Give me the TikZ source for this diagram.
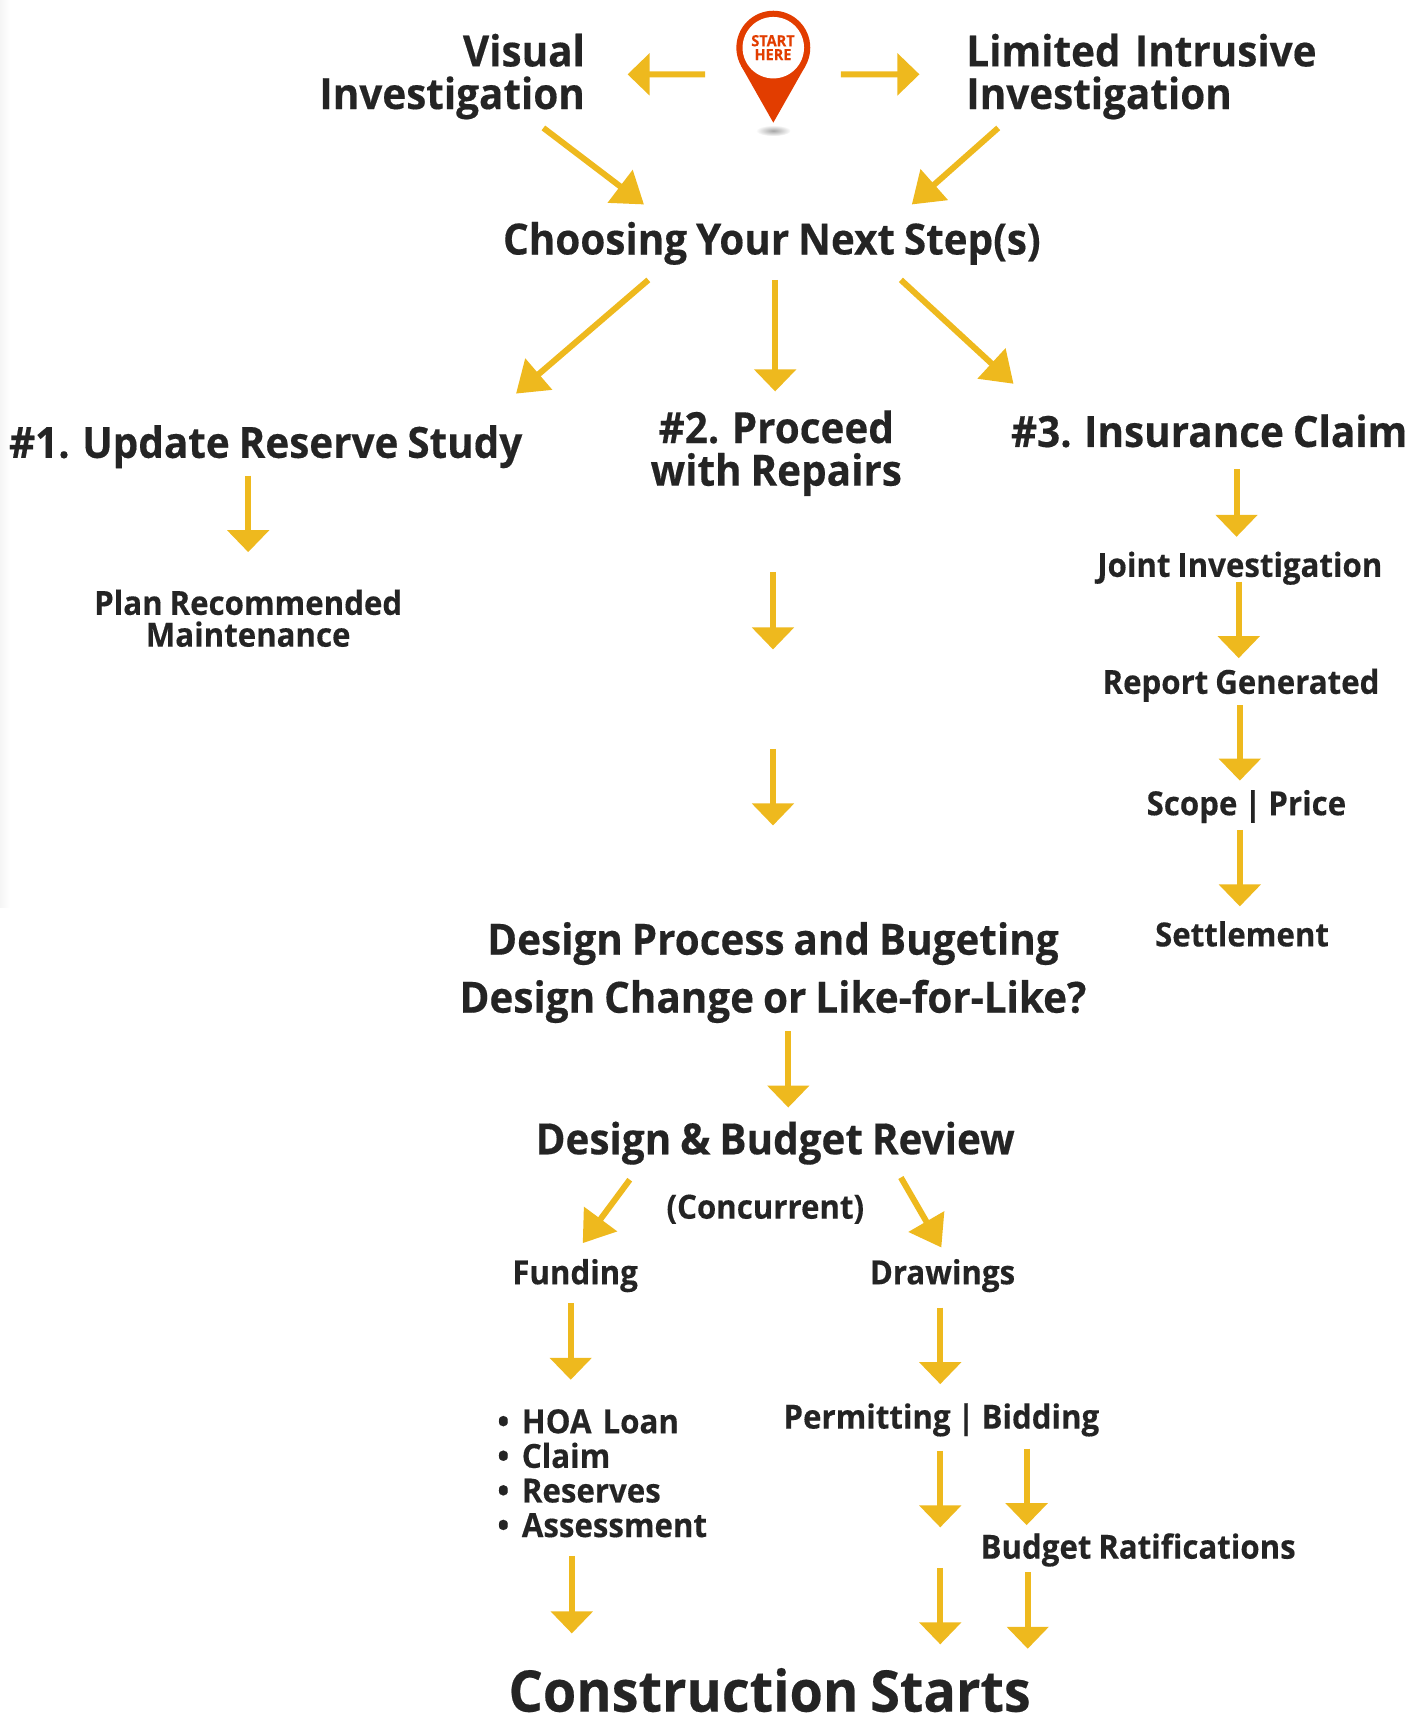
\documentclass[tikz,border=0pt]{standalone}
\usepackage{fontspec}
\usetikzlibrary{arrows.meta,calc}
\setmainfont{Open Sans}[BoldFont={Open Sans Bold},BoldFeatures={FakeBold=0.35},FakeStretch=0.94,WordSpace=0.85]
\definecolor{ink}{HTML}{242424}
\definecolor{gold}{HTML}{EEB91E}
\definecolor{pinred}{HTML}{E23D00}
\tikzset{
 txt/.style={inner sep=0pt,outer sep=0pt,text=ink,font=\bfseries},
 bigt/.style={txt,font=\bfseries\fontsize{21.5pt}{21.3pt}\selectfont},
 midt/.style={txt,font=\bfseries\fontsize{16.6pt}{15.9pt}\selectfont},
 bigl/.style={bigt,text height=21.5pt,text depth=6.45pt},
 midl/.style={midt,text height=16.6pt,text depth=5pt},
 hugt/.style={txt,font=\bfseries\fontsize{28.7pt}{30pt}\selectfont,text height=20.8pt,text depth=0pt},
 arr/.style={draw=gold,line width=3pt,-{Triangle[width=20.5pt,length=11pt,fill=gold]}},
 darr/.style={draw=gold,line width=3pt,-{Triangle[width=20pt,length=15pt,fill=gold]}},
}
\begin{document}
\begin{tikzpicture}[x=0.54665pt,y=-0.54665pt]
\useasboundingbox (0,0) rectangle (1292.4,1567.7);
\shade[left color=black!4,right color=white] (0,0) rectangle (9,830);
% pin
\shade[inner color=black!35,outer color=white] (707.3,119.5) ellipse [x radius=16,y radius=5];
\fill[pinred] (707.3,112.2) -- (677.9,60.3) -- (736.7,60.3) -- cycle;
\fill[pinred] (707.3,43.6) circle [radius=33.8];
\fill[white] (707.3,43.6) circle [radius=28.1];
\node[inner sep=0pt,text=pinred,align=center,font=\bfseries\fontsize{7.7pt}{6.9pt}\selectfont] (start) at (707,43.5) {START\\HERE};
% text
\node[bigt,text width=164pt,align=right] (visual) at (385,70) {Visual\\Investigation};
\node[bigt,text width=186pt,align=left] (limited) at (1054,70) {Limited Intrusive\\Investigation};
\node[bigl] (choose) at (706,219) {Choosing Your Next Step(s)};
\node[bigl] (one) at (243,405) {\#1. Update Reserve Study};
\node[bigt,align=center] (two) at (710,414.5) {\#2. Proceed\\with Repairs};
\node[bigl] (three) at (1106,395) {\#3. Insurance Claim};
\node[midt,align=center] (plan) at (227,565.5) {Plan Recommended\\Maintenance};
\node[midl] (joint) at (1134,517) {Joint Investigation};
\node[midl] (report) at (1135,624) {Report Generated};
\node[midl] (scope) at (1140,735) {Scope | Price};
\node[midl] (settle) at (1136,855) {Settlement};
\node[bigt,align=center,font=\bfseries\fontsize{21.5pt}{29pt}\selectfont] (design) at (707,889.5) {Design Process and Bugeting\\Design Change or Like-for-Like?};
\node[bigl] (review) at (709,1042) {Design \& Budget Review};
\node[midl] (conc) at (700,1104) {(Concurrent)};
\node[midl] (funding) at (526,1164) {Funding};
\node[midl] (drawings) at (862,1164) {Drawings};
\node[midt,text width=109.3pt,align=left,font=\bfseries\fontsize{16.6pt}{17.3pt}\selectfont] (list) at (555,1347.5) {\makebox[12.2pt][l]{•}HOA Loan\\\makebox[12.2pt][l]{•}Claim\\\makebox[12.2pt][l]{•}Reserves\\\makebox[12.2pt][l]{•}Assessment};
\node[midl] (permit) at (861,1296) {Permitting | Bidding};
\node[midl] (budget) at (1041,1415) {Budget Ratifications};
\node[hugt] (cs) at (704,1546.5) {Construction Starts};
% free ends
\coordinate (gapa) at (707,594);
\coordinate (gapb) at (707,685);
\coordinate (gapc) at (707,755);
\coordinate (permitend) at (860,1397);
\coordinate (laststart) at (860,1434);
% connectors
\draw[arr] ([shift={(-62,24.5)}]start.center) -- ([shift={(189,-2)}]visual.center);
\draw[arr] ([shift={(62,24.5)}]start.center) -- ([shift={(-213,-2)}]limited.center);
\draw[darr] ([shift={(112,47)}]visual.center) -- ([shift={(-117,-32)}]choose.center);
\draw[darr] ([shift={(-141,47)}]limited.center) -- ([shift={(128,-32)}]choose.center);
\draw[darr] ([shift={(-113,37)}]choose.center) -- ([shift={(229,-45)}]one.center);
\draw[arr] ([shift={(3,37)}]choose.center) -- ([shift={(-1,-56.5)}]two.center);
\draw[darr] ([shift={(118,37)}]choose.center) -- ([shift={(-179,-44)}]three.center);
\draw[arr] ([shift={(-16,30)}]one.center) -- ([shift={(0,-60.5)}]plan.center);
\draw[arr] ([shift={(-3,108.5)}]two.center) -- (gapa);
\draw[arr] (gapb) -- (gapc);
\draw[arr] ([shift={(25,34)}]three.center) -- ([shift={(-3,-26)}]joint.center);
\draw[arr] ([shift={(-1,15)}]joint.center) -- ([shift={(-2,-22)}]report.center);
\draw[arr] ([shift={(-1,21)}]report.center) -- ([shift={(-6,-21)}]scope.center);
\draw[arr] ([shift={(-6,24)}]scope.center) -- ([shift={(-2,-26)}]settle.center);
\draw[arr] ([shift={(14,53.5)}]design.center) -- ([shift={(12,-29)}]review.center);
\draw[darr] ([shift={(-133,37)}]review.center) -- ([shift={(7,-27)}]funding.center);
\draw[darr] ([shift={(115,35)}]review.center) -- ([shift={(-1,-23)}]drawings.center);
\draw[arr] ([shift={(-4,28)}]funding.center) -- ([shift={(-33,-85.5)}]list.center);
\draw[arr] ([shift={(-2,32)}]drawings.center) -- ([shift={(-1,-30)}]permit.center);
\draw[arr] ([shift={(-1,31)}]permit.center) -- (permitend);
\draw[arr] ([shift={(78,29)}]permit.center) -- ([shift={(-102,-20)}]budget.center);
\draw[arr] ([shift={(-32,75.5)}]list.center) -- ([shift={(-181,-52.5)}]cs.center);
\draw[arr] (laststart) -- ([shift={(156,-42.5)}]cs.center);
\draw[arr] ([shift={(-101,23)}]budget.center) -- ([shift={(236,-38.5)}]cs.center);
\end{tikzpicture}
\end{document}
